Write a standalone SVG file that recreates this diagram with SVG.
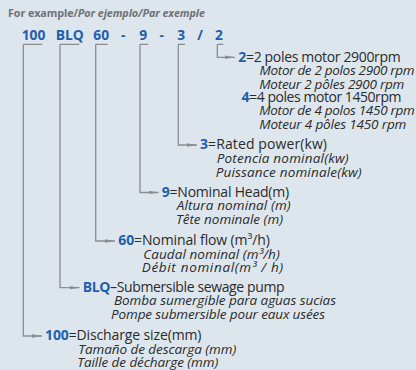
<svg xmlns="http://www.w3.org/2000/svg" width="416" height="370" viewBox="0 0 416 370">
<defs>
<marker id="ah" markerUnits="userSpaceOnUse" markerWidth="10" markerHeight="4" refX="10" refY="2" orient="auto">
<path d="M0,0.3 L10,2 L0,3.7 z" fill="#8a8d90"/>
</marker>
<style>
.bg{fill:#dde6ed}
.ttl{font-family:"Open Sans","Liberation Sans",sans-serif;font-size:10.8px;font-weight:bold;fill:#6e7175}
.code{font-family:"Open Sans","Liberation Sans",sans-serif;font-size:13.8px;font-weight:bold;fill:#1f5fad}
.t{font-family:"Open Sans","Liberation Sans",sans-serif;font-size:14px;fill:#2b2b2b}
.i{font-family:"Open Sans","Liberation Sans",sans-serif;font-size:13.5px;font-style:italic;fill:#2b2b2b}
.k{font-weight:bold;fill:#1f5fad}
.ln{fill:none;stroke:#8a8d90;stroke-width:1.3}
</style>
</defs>
<rect class="bg" x="0" y="0" width="416" height="370"/>
<g id="title">
<text class="ttl" x="8" y="17.3" textLength="197">For example/<tspan font-style="italic">Por ejemplo/Par exemple</tspan></text>
</g>
<g id="code">
<text class="code" x="21.7" y="39.7">100</text>
<text class="code" x="55.7" y="39.7">BLQ</text>
<text class="code" x="93.3" y="39.7">60</text>
<text class="code" x="123.3" y="39.7" text-anchor="middle">-</text>
<text class="code" x="139.3" y="39.7">9</text>
<text class="code" x="161.7" y="39.7" text-anchor="middle">-</text>
<text class="code" x="177.3" y="39.7">3</text>
<text class="code" x="200" y="39.7" text-anchor="middle">/</text>
<text class="code" x="215" y="39.7">2</text>
</g>
<g id="connectors">
<path class="ln" d="M23.3,44.3 H42.3 M60,44.3 H79.3 M95.7,44.3 H107.7 M140,44.3 H148.3 M178.3,44.3 H185 M217.3,44.3 H223.3"/>
<path class="ln" marker-end="url(#ah)" d="M217.3,44.3 V57.3 H235"/>
<path class="ln" marker-end="url(#ah)" d="M178.3,44.3 V145 H197"/>
<path class="ln" marker-end="url(#ah)" d="M140,44.3 V192.5 H158.5"/>
<path class="ln" marker-end="url(#ah)" d="M95.7,44.3 V241 H115"/>
<path class="ln" marker-end="url(#ah)" d="M60,44.3 V287.7 H79.5"/>
<path class="ln" marker-end="url(#ah)" d="M23.3,44.3 V336 H42"/>
</g>
<g id="node-2">
<text class="t" x="238.3" y="61.8" textLength="162.4"><tspan class="k">2</tspan>=2 poles motor 2900rpm</text>
<text class="i" x="259.5" y="75.3" textLength="155">Motor de 2 polos 2900 rpm</text>
<text class="i" x="259.3" y="88.6" textLength="145">Moteur 2 pôles 2900 rpm</text>
<text class="t" x="241.5" y="101.9" textLength="160"><tspan class="k">4</tspan>=4 poles motor 1450rpm</text>
<text class="i" x="259.3" y="115.2" textLength="155.5">Motor de 4 polos 1450 rpm</text>
<text class="i" x="259.3" y="128.5" textLength="147">Moteur 4 pôles 1450 rpm</text>
</g>
<g id="node-3">
<text class="t" x="200" y="149.3" textLength="127"><tspan class="k">3</tspan>=Rated power(kw)</text>
<text class="i" x="216.7" y="163" textLength="132">Potencia nominal(kw)</text>
<text class="i" x="215.7" y="176.6" textLength="146">Puissance nominale(kw)</text>
</g>
<g id="node-9">
<text class="t" x="161.7" y="196.7" textLength="127.5"><tspan class="k">9</tspan>=Nominal Head(m)</text>
<text class="i" x="176.7" y="210.2" textLength="114">Altura nominal (m)</text>
<text class="i" x="176" y="223.7" textLength="107">Tête nominale (m)</text>
</g>
<g id="node-60">
<text class="t" x="118.3" y="245" textLength="151.5"><tspan class="k">60</tspan>=Nominal flow (m³/h)</text>
<text class="i" x="143.3" y="258.5" textLength="136.5">Caudal nominal (m³/h)</text>
<text class="i" x="141.7" y="272" textLength="141.5">Débit nominal(m³ / h)</text>
</g>
<g id="node-BLQ">
<text class="t" x="82.7" y="291.7" textLength="202"><tspan class="k">BLQ</tspan>–Submersible sewage pump</text>
<text class="i" x="114" y="305.2" textLength="222">Bomba sumergible para aguas sucias</text>
<text class="i" x="111" y="318.7" textLength="214">Pompe submersible pour eaux usées</text>
</g>
<g id="node-100">
<text class="t" x="45" y="340" textLength="156.5"><tspan class="k">100</tspan>=Discharge size(mm)</text>
<text class="i" x="78.3" y="353.5" textLength="158">Tamaño de descarga (mm)</text>
<text class="i" x="77.3" y="367" textLength="141">Taille de décharge (mm)</text>
</g>
</svg>
